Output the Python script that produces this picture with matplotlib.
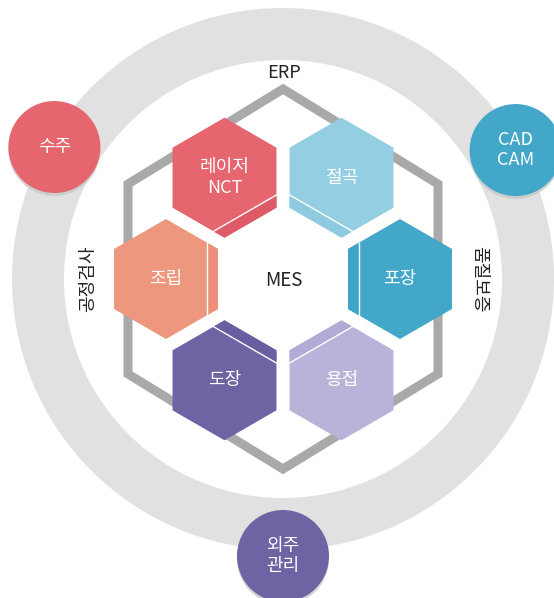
import numpy as np
import matplotlib.pyplot as plt
from matplotlib.patches import Polygon, Circle, Annulus

plt.rcParams['font.family'] = ['Noto Sans CJK KR', 'DejaVu Sans']

# ---- diagram content ----
hex_labels = ['포장', '절곡', '레이저\nNCT', '조립', '도장', '용접']
hex_angles = [0, 60, 120, 180, 240, 300]
hex_colors = ['#43A7C9', '#94CEE3', '#E5666F', '#EE977F', '#6C64A3', '#B9B3D9']
strip_colors = ['#3FA3C6', '#8ECAE0', '#DE5A66', '#EC9179', '#675F9F', '#B2ABD5']

node_labels = ['수주', 'CAD\nCAM', '외주\n관리']
node_colors = ['#E5666F', '#43A7C9', '#6C64A3']
node_angles = [150, 29, -90]

side_labels = ['ERP', '공정검사', '품질보증']
center_label = 'MES'

# ---- layout (pixel space, y down) ----
W, H = 554, 598
cx, cy = 283, 279
ring_r, ring_w = 271, 52
hex_step, hex_r = 117, 60
strip_t = 11

fig = plt.figure(figsize=(W / 100, H / 100), dpi=100)
ax = fig.add_axes([0, 0, 1, 1])
ax.set_xlim(0, W)
ax.set_ylim(H, 0)
ax.set_aspect('equal')
ax.axis('off')

# outer gray ring
ax.add_patch(Annulus((cx, cy), ring_r, ring_w, facecolor='#E1E1E1', edgecolor='none', zorder=1))

# gray hexagonal frame (slightly stretched vertically)
fw, fh = 155, 190
frame = [(cx, cy - fh), (cx + fw, cy - fh / 2), (cx + fw, cy + fh / 2),
         (cx, cy + fh), (cx - fw, cy + fh / 2), (cx - fw, cy - fh / 2)]
ax.add_patch(Polygon(frame, closed=True, fill=False, edgecolor='#A9A9A9',
                     linewidth=6.5, joinstyle='miter', zorder=2))


def hex_vertices(hx, hy, r):
    a = np.radians(90 + 60 * np.arange(6))
    return np.column_stack([hx + r * np.cos(a), hy - r * np.sin(a)])


for lab, ang, col, scol in zip(hex_labels, hex_angles, hex_colors, strip_colors):
    t = np.radians(ang)
    hx = cx + hex_step * np.cos(t)
    hy = cy - hex_step * np.sin(t)
    verts = hex_vertices(hx, hy, hex_r)
    ax.add_patch(Polygon(verts, closed=True, facecolor=col, edgecolor='none', zorder=3))

    # strip along the edge facing the centre
    n = np.array([cx - hx, cy - hy])
    n /= np.linalg.norm(n)
    proj = (verts - [hx, hy]) @ n
    cut = hex_r * np.cos(np.radians(30)) - strip_t
    pts = []
    for i in range(6):
        p, q = verts[i], verts[(i + 1) % 6]
        if proj[i] >= cut - 1e-6:
            pts.append(p)
        if (proj[i] - cut) * (proj[(i + 1) % 6] - cut) < 0:
            s = (cut - proj[i]) / (proj[(i + 1) % 6] - proj[i])
            pts.append(p + s * (q - p))
    pts = np.array(pts)
    ax.add_patch(Polygon(pts, closed=True, facecolor=scol, edgecolor='none', zorder=4))
    # white fold line
    line = [pp for pp in pts if abs((pp - [hx, hy]) @ n - cut) < 1e-3]
    if len(line) == 2:
        ax.plot([line[0][0], line[1][0]], [line[0][1], line[1][1]],
                color='white', linewidth=1.0, zorder=5)

    ax.text(hx, hy, lab, color='white', fontsize=13, fontweight='medium',
            ha='center', va='center', linespacing=1.2, zorder=6)

# centre label
ax.text(cx + 1, cy + 1, center_label, color='#222222', fontsize=13.5,
        ha='center', va='center', zorder=6)

# side labels
ax.text(cx + 1, 73, side_labels[0], color='#222222', fontsize=13,
        ha='center', va='center', zorder=6)
ax.text(88, cy, side_labels[1], color='#222222', fontsize=13, fontweight='medium',
        rotation=90, ha='center', va='center', zorder=6)
ax.text(479, cy, side_labels[2], color='#222222', fontsize=13, fontweight='medium',
        rotation=-90, ha='center', va='center', zorder=6)

# nodes on the ring
node_dist = [264, 266, 277]
node_r = 46
for lab, ang, col, d in zip(node_labels, node_angles, node_colors, node_dist):
    t = np.radians(ang)
    nx = cx + d * np.cos(t)
    ny = cy - d * np.sin(t)
    ax.add_patch(Circle((nx, ny + 3), node_r, facecolor='#C9C9C9', edgecolor='none',
                        alpha=0.8, zorder=7))
    ax.add_patch(Circle((nx, ny), node_r, facecolor=col, edgecolor='none', zorder=8))
    ax.text(nx, ny, lab, color='white', fontsize=13, fontweight='medium',
            ha='center', va='center', linespacing=1.15, zorder=9)

fig.savefig('out.png', dpi=100, facecolor='white')
